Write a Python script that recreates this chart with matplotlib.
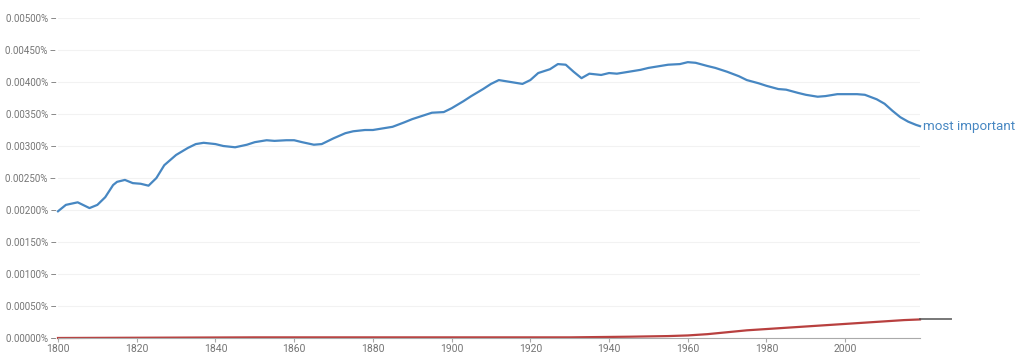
import matplotlib
matplotlib.use('Agg')
from matplotlib import pyplot as plt
from matplotlib.ticker import FuncFormatter

plt.rcParams['font.family'] = ['Roboto', 'DejaVu Sans']

# blue series: "most important" (percent)
years_blue = [1800, 1802, 1805, 1808, 1810, 1812, 1814, 1815, 1817, 1819, 1821, 1823, 1825, 1827,
              1830, 1833, 1835, 1837, 1840, 1842, 1845, 1848, 1850, 1853, 1855, 1858, 1860, 1862,
              1865, 1867, 1870, 1873, 1875, 1878, 1880, 1883, 1885, 1888, 1890, 1893, 1895, 1898,
              1900, 1903, 1905, 1908, 1910, 1912, 1915, 1918, 1920, 1922, 1925, 1927, 1929, 1931,
              1933, 1935, 1938, 1940, 1942, 1945, 1948, 1950, 1953, 1955, 1958, 1960, 1962, 1965,
              1967, 1970, 1973, 1975, 1978, 1980, 1983, 1985, 1988, 1990, 1993, 1995, 1998, 2000,
              2003, 2005, 2008, 2010, 2012, 2014, 2016, 2018, 2019]
most_important = [0.00198, 0.00208, 0.00212, 0.00203, 0.00208, 0.00220, 0.00239, 0.00244, 0.00247,
                  0.00242, 0.00241, 0.00238, 0.00250, 0.00270, 0.00286, 0.00297, 0.00303, 0.00305,
                  0.00303, 0.00300, 0.00298, 0.00302, 0.00306, 0.00309, 0.00308, 0.00309, 0.00309,
                  0.00306, 0.00302, 0.00303, 0.00312, 0.00320, 0.00323, 0.00325, 0.00325, 0.00328,
                  0.00330, 0.00337, 0.00342, 0.00348, 0.00352, 0.00353, 0.00359, 0.00370, 0.00378,
                  0.00389, 0.00397, 0.00403, 0.00400, 0.00397, 0.00403, 0.00414, 0.00420, 0.00428,
                  0.00427, 0.00416, 0.00406, 0.00413, 0.00411, 0.00414, 0.00413, 0.00416, 0.00419,
                  0.00422, 0.00425, 0.00427, 0.00428, 0.00431, 0.00430, 0.00425, 0.00422, 0.00416,
                  0.00409, 0.00403, 0.00398, 0.00394, 0.00389, 0.00388, 0.00383, 0.00380, 0.00377,
                  0.00378, 0.00381, 0.00381, 0.00381, 0.00380, 0.00373, 0.00366, 0.00355, 0.00345,
                  0.00338, 0.00333, 0.00331]

# red series (percent)
years_red = [1800, 1850, 1900, 1930, 1945, 1955, 1960, 1965, 1970, 1975, 1980, 1985, 1990, 1995,
             2000, 2005, 2010, 2015, 2019]
red_vals = [0.00000, 0.00001, 0.00001, 0.00001, 0.00002, 0.00003, 0.00004, 0.00006, 0.00009,
            0.00012, 0.00014, 0.00016, 0.00018, 0.00020, 0.00022, 0.00024, 0.00026, 0.00028,
            0.00029]
# faded grey continuation past the last year
years_tail = [2019, 2027]
tail_vals = [0.00029, 0.00029]

yticks = [0, 0.0005, 0.001, 0.0015, 0.002, 0.0025, 0.003, 0.0035, 0.004, 0.0045, 0.005]
xticks = [1800, 1820, 1840, 1860, 1880, 1900, 1920, 1940, 1960, 1980, 2000]

blue = '#4787c2'
red = '#b8403f'
grey = '#757575'

fig = plt.figure(figsize=(10.24, 3.61), dpi=100)
ax = fig.add_axes([58 / 1024, 23 / 361, 862 / 1024, 320 / 361])

ax.plot(years_blue, most_important, color=blue, lw=1.6, solid_joinstyle='round', clip_on=False)
ax.plot(years_red, red_vals, color=red, lw=1.6, clip_on=False)
ax.plot(years_tail, tail_vals, color='#555555', lw=1.4, alpha=0.8, clip_on=False)
ax.text(2019.7, most_important[-1], 'most important', color=blue, fontsize=9.6,
        va='center', ha='left')

ax.set_xlim(1800, 2019)
ax.set_ylim(0, 0.005)
ax.set_yticks(yticks)
ax.set_xticks(xticks)
ax.yaxis.set_major_formatter(FuncFormatter(lambda v, p: '%.5f%% \u2013' % v))
ax.grid(axis='y', color='#f2f2f2', lw=0.8)
ax.set_axisbelow(True)

for s in ['top', 'right', 'left']:
    ax.spines[s].set_visible(False)
ax.spines['bottom'].set_color('#aaaaaa')
ax.tick_params(axis='y', length=0, pad=1, labelsize=7, labelcolor=grey)
ax.tick_params(axis='x', length=3, color='#aaaaaa', pad=1, labelsize=7.5, labelcolor=grey)

fig.savefig('out.png', dpi=100, facecolor='white')
